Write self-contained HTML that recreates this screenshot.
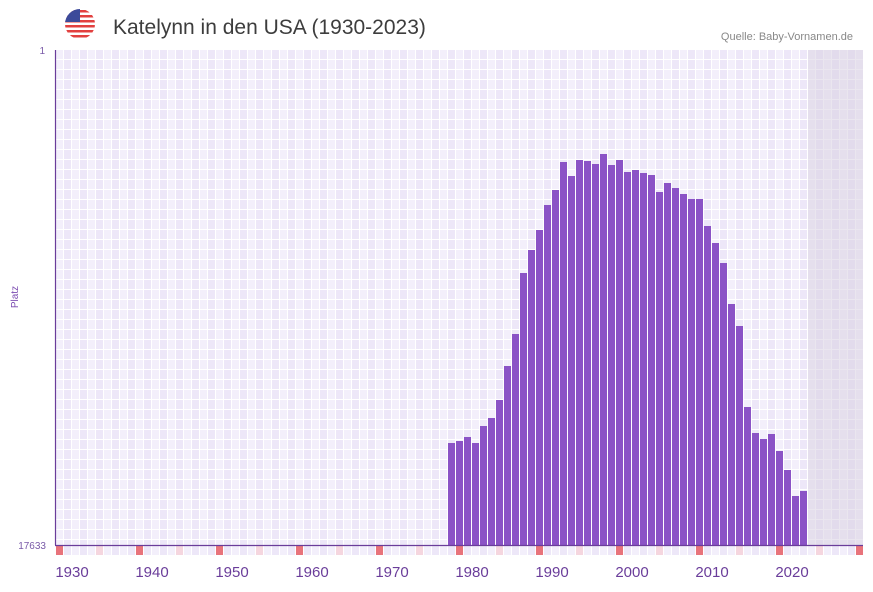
<!DOCTYPE html>
<html><head><meta charset="utf-8"><style>
body{margin:0;background:#fff;width:873px;height:587px;overflow:hidden;font-family:"Liberation Sans",sans-serif}
</style></head><body>
<svg width="873" height="587" xmlns="http://www.w3.org/2000/svg">
<defs>
<pattern id="g" x="56" y="50" width="16" height="10" patternUnits="userSpaceOnUse">
<rect width="16" height="10" fill="#fff"/>
<rect x="0" y="0" width="7" height="9" fill="#f3effb"/>
<rect x="8" y="0" width="7" height="9" fill="#ede7f8"/>
</pattern>
<pattern id="s" x="56" y="546" width="16" height="10" patternUnits="userSpaceOnUse">
<rect width="16" height="10" fill="#fff"/>
<rect x="0" y="0" width="7" height="9" fill="#f3effb"/>
<rect x="8" y="0" width="7" height="9" fill="#ede7f8"/>
</pattern>
<clipPath id="fc"><circle cx="80" cy="24" r="15"/></clipPath>
</defs>
<g clip-path="url(#fc)">
<rect x="65" y="9" width="30" height="30" fill="#fff"/>
<rect x="65" y="10" width="30" height="2.5" fill="#e2403f"/>
<rect x="65" y="15" width="30" height="2.5" fill="#e2403f"/>
<rect x="65" y="20" width="30" height="2.5" fill="#e2403f"/>
<rect x="65" y="25" width="30" height="2.5" fill="#e2403f"/>
<rect x="65" y="30" width="30" height="2.5" fill="#e2403f"/>
<rect x="65" y="35" width="30" height="2.5" fill="#e2403f"/>
<rect x="65" y="9" width="15" height="13" fill="#3c4a9a"/>
</g>
<text x="113" y="34" font-size="21" fill="#3d3d3d">Katelynn in den USA (1930-2023)</text>
<text x="853" y="40" font-size="11" fill="#888" text-anchor="end">Quelle: Baby-Vornamen.de</text>
<rect x="56" y="50" width="807" height="495" fill="url(#g)"/>
<rect x="808" y="50" width="55" height="495" fill="#d8d2e2" opacity="0.55"/>
<rect x="56" y="546" width="807" height="9" fill="url(#s)"/>
<g fill="#e8737b">
<rect x="56" y="546" width="7" height="9"/><rect x="136" y="546" width="7" height="9"/><rect x="216" y="546" width="7" height="9"/><rect x="296" y="546" width="7" height="9"/><rect x="376" y="546" width="7" height="9"/><rect x="456" y="546" width="7" height="9"/><rect x="536" y="546" width="7" height="9"/><rect x="616" y="546" width="7" height="9"/><rect x="696" y="546" width="7" height="9"/><rect x="776" y="546" width="7" height="9"/><rect x="856" y="546" width="7" height="9"/>
</g>
<g fill="#f5d6df">
<rect x="96" y="546" width="7" height="9"/><rect x="176" y="546" width="7" height="9"/><rect x="256" y="546" width="7" height="9"/><rect x="336" y="546" width="7" height="9"/><rect x="416" y="546" width="7" height="9"/><rect x="496" y="546" width="7" height="9"/><rect x="576" y="546" width="7" height="9"/><rect x="656" y="546" width="7" height="9"/><rect x="736" y="546" width="7" height="9"/><rect x="816" y="546" width="7" height="9"/>
</g>
<g fill="#8b53c6">
<rect x="448" y="443" width="7" height="102"/>
<rect x="456" y="441" width="7" height="104"/>
<rect x="464" y="437" width="7" height="108"/>
<rect x="472" y="443" width="7" height="102"/>
<rect x="480" y="426" width="7" height="119"/>
<rect x="488" y="418" width="7" height="127"/>
<rect x="496" y="400" width="7" height="145"/>
<rect x="504" y="366" width="7" height="179"/>
<rect x="512" y="334" width="7" height="211"/>
<rect x="520" y="273" width="7" height="272"/>
<rect x="528" y="250" width="7" height="295"/>
<rect x="536" y="230" width="7" height="315"/>
<rect x="544" y="205" width="7" height="340"/>
<rect x="552" y="190" width="7" height="355"/>
<rect x="560" y="162" width="7" height="383"/>
<rect x="568" y="176" width="7" height="369"/>
<rect x="576" y="160" width="7" height="385"/>
<rect x="584" y="161" width="7" height="384"/>
<rect x="592" y="164" width="7" height="381"/>
<rect x="600" y="154" width="7" height="391"/>
<rect x="608" y="165" width="7" height="380"/>
<rect x="616" y="160" width="7" height="385"/>
<rect x="624" y="172" width="7" height="373"/>
<rect x="632" y="170" width="7" height="375"/>
<rect x="640" y="173" width="7" height="372"/>
<rect x="648" y="175" width="7" height="370"/>
<rect x="656" y="192" width="7" height="353"/>
<rect x="664" y="183" width="7" height="362"/>
<rect x="672" y="188" width="7" height="357"/>
<rect x="680" y="194" width="7" height="351"/>
<rect x="688" y="199" width="7" height="346"/>
<rect x="696" y="199" width="7" height="346"/>
<rect x="704" y="226" width="7" height="319"/>
<rect x="712" y="243" width="7" height="302"/>
<rect x="720" y="263" width="7" height="282"/>
<rect x="728" y="304" width="7" height="241"/>
<rect x="736" y="326" width="7" height="219"/>
<rect x="744" y="407" width="7" height="138"/>
<rect x="752" y="433" width="7" height="112"/>
<rect x="760" y="439" width="7" height="106"/>
<rect x="768" y="434" width="7" height="111"/>
<rect x="776" y="451" width="7" height="94"/>
<rect x="784" y="470" width="7" height="75"/>
<rect x="792" y="496" width="7" height="49"/>
<rect x="800" y="491" width="7" height="54"/>
</g>
<line x1="55.5" y1="50" x2="55.5" y2="545" stroke="#6a3d9a" stroke-width="1.2"/>
<line x1="55" y1="545.5" x2="863" y2="545.5" stroke="#6a3d9a" stroke-width="1.2"/>
<text x="45" y="54" font-size="10" fill="#7a5aa8" text-anchor="end">1</text>
<text x="46" y="549" font-size="10" fill="#7a5aa8" text-anchor="end">17633</text>
<text transform="translate(18,297) rotate(-90)" font-size="10" fill="#7a4ab0" text-anchor="middle">Platz</text>
<g font-size="15" fill="#6a3d9a" text-anchor="middle">
<text x="72" y="577">1930</text><text x="152" y="577">1940</text><text x="232" y="577">1950</text><text x="312" y="577">1960</text><text x="392" y="577">1970</text><text x="472" y="577">1980</text><text x="552" y="577">1990</text><text x="632" y="577">2000</text><text x="712" y="577">2010</text><text x="792" y="577">2020</text>
</g>
</svg>
</body></html>
